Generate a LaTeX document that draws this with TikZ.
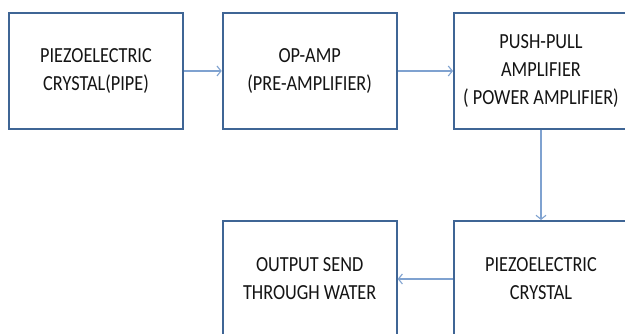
\documentclass[tikz,border=0pt]{standalone}
\usepackage{fontspec}
\setmainfont{Carlito}[FakeStretch=0.85]
\usetikzlibrary{arrows.meta}
\definecolor{boxblue}{HTML}{3F6595}
\definecolor{arrblue}{HTML}{7FA2D0}
\tikzset{
  blockbox/.style={draw=boxblue, line width=2pt, fill=white, minimum width=174pt, minimum height=116pt,
    align=center, inner sep=0pt, font=\fontsize{21.5}{28}\selectfont, text=black!92},
  conn/.style={draw=arrblue, line width=1.1pt, -{Straight Barb[length=4pt,width=10pt]}}
}
\begin{document}
\begin{tikzpicture}[x=1pt,y=1pt]
\useasboundingbox (0,0) rectangle (625,334);
\clip (0,0) rectangle (625,334);
\fill[white] (0,0) rectangle (625,334);
\node[blockbox] (b1) at (96,263) {PIEZOELECTRIC\\CRYSTAL(PIPE)};
\node[blockbox] (b2) at (309.7,263) {OP-AMP\\(PRE-AMPLIFIER)};
\node[blockbox] (b3) at (541,263) {PUSH-PULL\\AMPLIFIER\\( POWER AMPLIFIER)};
\node[blockbox] (b4) at (309.7,55) {OUTPUT SEND\\THROUGH WATER};
\node[blockbox] (b5) at (541,55) {PIEZOELECTRIC\\CRYSTAL};
\draw[conn] (b1) -- (b2);
\draw[conn] (b2) -- (b3);
\draw[conn] (b3) -- (b5);
\draw[conn] (b5) -- (b4);
\end{tikzpicture}
\end{document}
